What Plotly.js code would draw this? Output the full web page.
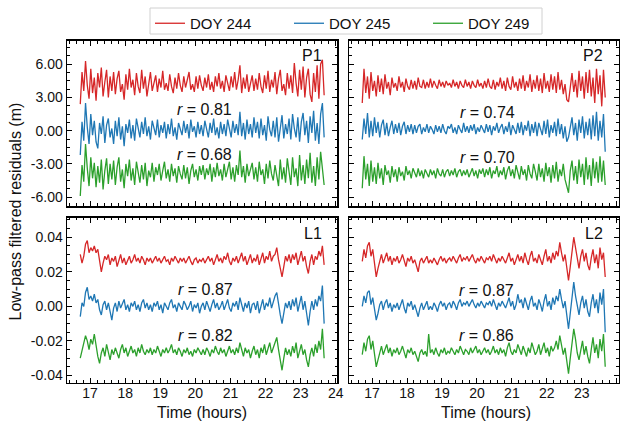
<!DOCTYPE html>
<html>
<head>
<meta charset="utf-8">
<script src="https://cdn.plot.ly/plotly-3.0.1.min.js"></script>
<style>
  html, body { margin: 0; padding: 0; background: #fff; }
  #chart { width: 623px; height: 425px; }
</style>
</head>
<body>
<div id="chart"></div>
<script>
// Sample times (hours of day)
const hours = [
  16.72, 16.77, 16.82, 16.87, 16.92, 16.97, 17.02, 17.07, 17.12, 17.17,
  17.22, 17.27, 17.32, 17.37, 17.42, 17.47, 17.52, 17.57, 17.62, 17.67,
  17.72, 17.77, 17.82, 17.87, 17.92, 17.97, 18.02, 18.07, 18.12, 18.17,
  18.22, 18.27, 18.32, 18.37, 18.42, 18.47, 18.52, 18.57, 18.62, 18.67,
  18.72, 18.77, 18.82, 18.87, 18.92, 18.97, 19.02, 19.07, 19.12, 19.17,
  19.22, 19.27, 19.32, 19.37, 19.42, 19.47, 19.52, 19.57, 19.62, 19.67,
  19.72, 19.77, 19.82, 19.87, 19.92, 19.97, 20.02, 20.07, 20.12, 20.17,
  20.22, 20.27, 20.32, 20.37, 20.42, 20.47, 20.52, 20.57, 20.62, 20.67,
  20.72, 20.77, 20.82, 20.87, 20.92, 20.97, 21.02, 21.07, 21.12, 21.17,
  21.22, 21.27, 21.32, 21.37, 21.42, 21.47, 21.52, 21.57, 21.62, 21.67,
  21.72, 21.77, 21.82, 21.87, 21.92, 21.97, 22.02, 22.07, 22.12, 22.17,
  22.22, 22.27, 22.32, 22.37, 22.42, 22.47, 22.52, 22.57, 22.62, 22.67,
  22.72, 22.77, 22.82, 22.87, 22.92, 22.97, 23.02, 23.07, 23.12, 23.17,
  23.22, 23.27, 23.32, 23.37, 23.42, 23.47, 23.52, 23.57, 23.62, 23.67
];

const days = ['DOY 244', 'DOY 245', 'DOY 249'];
const dayColors = ['#d62728', '#1f77b4', '#2ca02c'];

// P1 code residuals (m), each day drawn at its own offset
const p1Doy244 = [
  2.4, 5.3, 3.6, 6.3, 4.1, 2.9, 5.6, 3.4, 4.8, 2.7,
  5.2, 3.9, 5.7, 3.1, 4.4, 5.5, 3.0, 4.9, 3.6, 5.3,
  3.3, 4.7, 5.4, 3.5, 4.2, 2.8, 5.1, 3.7, 5.6, 3.9,
  4.6, 3.2, 5.2, 4.0, 3.4, 5.5, 3.8, 4.9, 3.1, 4.5,
  5.3, 3.6, 4.2, 5.0, 3.5, 4.7, 3.9, 5.4, 3.7, 4.3,
  3.6, 5.1, 4.0, 3.4, 4.8, 3.8, 5.2, 4.1, 3.5, 4.9,
  3.9, 4.6, 5.3, 3.7, 4.2, 3.5, 4.9, 3.8, 5.0, 4.1,
  3.6, 4.8, 3.9, 5.1, 3.7, 4.4, 3.5, 4.9, 4.0, 5.2,
  3.8, 4.5, 3.5, 5.0, 4.2, 3.6, 4.9, 3.9, 5.3, 3.7,
  4.6, 5.9, 3.4, 4.8, 3.8, 5.1, 3.5, 4.4, 5.0, 3.6,
  4.7, 3.7, 5.2, 4.0, 3.4, 5.0, 3.8, 5.4, 3.5, 4.6,
  3.9, 5.3, 3.3, 4.7, 5.5, 3.6, 4.2, 3.2, 5.2, 3.8,
  5.0, 3.4, 6.1, 4.3, 3.1, 5.5, 3.7, 5.8, 3.0, 4.8,
  5.6, 3.3, 2.6, 5.2, 3.5, 5.9, 2.9, 6.0, 6.4, 3.2
];
const p1Doy245 = [
  -2.2, 0.8, -0.9, 2.5, 0.3, -1.2, 1.5, -0.4, 0.9, -1.0,
  -1.6, 0.7, -0.3, 1.3, -1.1, 0.5, 1.1, -0.6, 0.2, -1.2,
  0.9, -0.5, 1.2, -0.8, 0.4, -1.4, 0.6, -0.2, 1.0, -0.7,
  0.5, -0.9, 1.1, 0.1, -0.6, 0.8, -0.3, 1.2, -0.5, 0.4,
  -0.8, 0.9, 0.2, -0.4, 1.0, -0.6, 0.5, -0.2, 0.8, -0.7,
  0.6, -0.3, 1.1, -0.5, 0.3, -0.8, 0.7, 0.1, -0.4, 0.9,
  -0.2, 0.6, -0.7, 1.0, -0.1, 0.4, -0.6, 0.8, -0.3, 0.5,
  -0.5, 0.9, 0.2, -0.6, 0.7, -0.2, 1.1, -0.4, 0.3, -0.7,
  0.8, -0.3, 0.6, -0.5, 1.0, 0.0, -0.6, 0.9, -0.2, 0.6,
  -0.4, 1.7, -0.5, 0.7, -0.8, 1.0, -0.3, 0.6, -0.6, 1.2,
  -0.2, 0.8, -0.7, 1.1, -0.4, 0.5, -0.9, 1.3, 0.1, -0.5,
  0.9, -0.6, 1.2, -1.0, 0.4, 1.4, -0.7, 0.6, -0.3, 1.1,
  -0.8, 1.5, 0.2, -0.6, 1.2, -1.0, 0.8, 1.6, -0.4, 0.9,
  -1.1, 1.3, -0.2, 1.8, -0.9, 0.7, -1.2, 1.5, 2.5, -0.6
];
const p1Doy249 = [
  -5.9, -3.1, -4.6, -1.2, -3.4, -5.0, -2.4, -4.3, -2.9, -5.1,
  -3.2, -4.7, -2.6, -5.3, -3.6, -2.5, -4.8, -3.0, -4.4, -2.7,
  -4.9, -3.3, -2.4, -4.6, -3.5, -5.2, -3.0, -4.1, -2.6, -4.5,
  -3.4, -4.9, -2.8, -3.9, -4.7, -3.1, -4.4, -2.9, -5.0, -3.6,
  -4.2, -2.9, -4.6, -3.3, -4.0, -3.0, -4.5, -3.6, -2.8, -4.3,
  -3.5, -4.6, -3.0, -4.1, -3.4, -4.7, -3.2, -3.9, -4.4, -3.1,
  -4.3, -3.3, -4.8, -3.6, -3.0, -4.2, -3.5, -4.5, -3.2, -4.0,
  -3.1, -4.4, -3.4, -4.0, -3.0, -4.6, -3.3, -4.2, -2.9, -4.1,
  -3.5, -4.5, -3.0, -4.2, -3.6, -2.8, -4.4, -3.3, -4.6, -3.1,
  -4.0, -1.8, -4.2, -3.2, -4.7, -3.0, -4.1, -3.5, -2.9, -4.4,
  -3.3, -4.6, -2.8, -4.0, -3.5, -4.8, -3.0, -4.3, -2.7, -3.9,
  -4.5, -3.1, -4.1, -5.0, -2.6, -4.4, -3.3, -4.7, -2.5, -3.8,
  -4.9, -2.4, -4.2, -3.4, -5.0, -2.2, -4.5, -3.1, -4.8, -2.6,
  -4.3, -2.0, -4.7, -3.2, -5.0, -2.4, -4.4, -1.9, -3.6, -4.9
];

// P2 code residuals (m)
const p2Doy244 = [
  2.5, 5.6, 3.4, 4.9, 2.9, 5.3, 3.6, 4.5, 3.1, 5.0,
  3.5, 4.7, 3.3, 5.1, 3.8, 4.4, 3.2, 4.8, 3.9, 4.3,
  3.6, 4.9, 3.9, 4.4, 3.5, 4.7, 4.0, 3.7, 4.6, 3.8,
  4.5, 3.7, 4.8, 4.0, 3.9, 4.6, 3.8, 4.4, 3.9, 4.7,
  3.9, 4.5, 4.1, 3.8, 4.6, 4.0, 4.4, 3.9, 4.5, 4.1,
  4.3, 3.9, 4.6, 4.0, 4.4, 3.8, 4.5, 4.1, 3.9, 4.6,
  4.0, 4.4, 3.8, 4.5, 4.1, 3.9, 4.6, 4.0, 4.3, 3.8,
  4.5, 3.9, 4.7, 4.0, 3.8, 4.6, 3.7, 4.4, 4.0, 4.8,
  3.8, 4.5, 3.6, 4.8, 4.0, 3.7, 4.9, 3.9, 4.4, 3.6,
  4.7, 3.8, 5.0, 3.6, 4.5, 3.9, 5.1, 3.5, 4.6, 3.8,
  5.0, 3.6, 4.7, 3.4, 5.2, 3.8, 4.5, 3.5, 5.1, 3.7,
  4.9, 3.4, 5.3, 3.7, 4.6, 3.3, 4.2, 2.8, 2.6, 4.0,
  5.2, 3.5, 4.6, 3.0, 5.4, 3.6, 4.9, 2.9, 5.3, 3.4,
  5.5, 3.1, 4.8, 2.5, 5.6, 3.3, 5.0, 2.2, 5.5, 3.0
];
const p2Doy245 = [
  -0.8, 1.1, -0.3, 1.6, -0.6, 0.9, -0.5, 1.2, -0.2, 0.8,
  -0.6, 0.5, 1.0, -0.4, 0.7, -0.5, 0.3, 0.9, -0.3, 0.6,
  -0.2, 0.7, -0.4, 0.4, 0.8, -0.3, 0.5, -0.1, 0.6, -0.3,
  0.5, -0.2, 0.4, 0.6, -0.3, 0.3, -0.1, 0.6, -0.2, 0.4,
  0.1, -0.3, 0.5, -0.1, 0.4, -0.2, 0.6, 0.0, -0.3, 0.4,
  0.2, 0.6, -0.2, 0.3, -0.3, 0.5, 0.1, -0.2, 0.7, -0.1,
  0.4, -0.2, 0.5, 0.0, 0.6, -0.3, 0.3, -0.1, 0.5, 0.1,
  -0.2, 0.6, -0.1, 0.5, -0.4, 0.4, 0.0, 0.7, -0.2, 0.3,
  0.6, -0.3, 0.4, -0.1, 0.8, -0.4, 0.5, 0.1, -0.3, 0.7,
  -0.2, 0.8, -0.4, 0.5, 0.0, 0.9, -0.5, 0.6, -0.2, 0.8,
  -0.5, 0.7, 0.1, -0.4, 0.9, -0.3, 1.0, -0.6, 0.5, -0.2,
  0.8, -0.5, 1.1, -0.3, 0.6, -0.7, 0.4, -1.0, -0.6, 0.3,
  1.2, -0.4, 0.7, -0.9, 1.0, -0.2, 1.3, -0.7, 0.8, -0.4,
  1.1, -0.8, 1.4, -0.5, 1.7, -0.9, 0.9, -0.6, 1.5, -1.9
];
const p2Doy249 = [
  -5.2, -2.3, -4.4, -3.0, -5.0, -2.7, -4.6, -3.3, -4.8, -2.9,
  -4.3, -3.4, -4.9, -3.1, -4.0, -3.6, -4.7, -3.2, -4.2, -3.5,
  -4.6, -3.3, -4.1, -3.7, -4.5, -3.2, -4.0, -3.6, -4.3, -3.4,
  -3.8, -4.2, -3.4, -4.1, -3.6, -4.3, -3.5, -3.9, -4.2, -3.5,
  -4.0, -3.6, -4.3, -3.4, -3.9, -4.1, -3.5, -4.2, -3.7, -3.5,
  -4.1, -3.6, -4.0, -3.4, -4.2, -3.7, -3.5, -4.1, -3.6, -4.0,
  -3.5, -4.2, -3.7, -3.4, -4.1, -3.6, -4.3, -3.5, -3.9, -3.4,
  -4.2, -3.5, -4.0, -3.3, -4.3, -3.6, -3.9, -3.2, -4.2, -3.6,
  -4.0, -3.3, -4.4, -3.6, -3.2, -4.1, -3.5, -4.3, -3.1, -3.8,
  -4.4, -3.2, -4.0, -3.5, -4.5, -3.1, -3.9, -4.3, -3.0, -3.7,
  -4.5, -3.0, -4.2, -3.4, -4.6, -2.9, -4.1, -3.3, -4.7, -3.1,
  -4.3, -2.8, -4.6, -3.5, -4.1, -3.0, -4.4, -5.0, -5.6, -3.6,
  -2.7, -4.5, -3.2, -4.8, -2.6, -4.2, -3.0, -4.9, -2.4, -4.4,
  -3.1, -5.0, -2.5, -4.3, -2.8, -4.7, -2.3, -4.6, -2.7, -4.9
];

// L1 carrier-phase residuals (m)
const l1Doy244 = [
  0.030, 0.025, 0.029, 0.036, 0.038, 0.031, 0.034, 0.032, 0.035, 0.031,
  0.033, 0.026, 0.020, 0.025, 0.029, 0.027, 0.030, 0.024, 0.028, 0.026,
  0.029, 0.023, 0.027, 0.030, 0.025, 0.028, 0.024, 0.027, 0.029, 0.025,
  0.027, 0.030, 0.026, 0.028, 0.025, 0.029, 0.027, 0.024, 0.028, 0.026,
  0.028, 0.025, 0.027, 0.029, 0.026, 0.028, 0.025, 0.027, 0.029, 0.026,
  0.027, 0.024, 0.028, 0.026, 0.029, 0.027, 0.025, 0.028, 0.026, 0.028,
  0.025, 0.027, 0.029, 0.026, 0.024, 0.027, 0.028, 0.025, 0.027, 0.026,
  0.028, 0.025, 0.027, 0.029, 0.026, 0.028, 0.024, 0.027, 0.030, 0.026,
  0.028, 0.025, 0.029, 0.027, 0.031, 0.026, 0.024, 0.028, 0.026, 0.029,
  0.025, 0.028, 0.031, 0.026, 0.029, 0.024, 0.027, 0.030, 0.025, 0.028,
  0.026, 0.030, 0.024, 0.028, 0.031, 0.025, 0.029, 0.027, 0.032, 0.026,
  0.029, 0.030, 0.034, 0.027, 0.022, 0.017, 0.023, 0.029, 0.026, 0.030,
  0.025, 0.030, 0.027, 0.031, 0.024, 0.028, 0.032, 0.026, 0.029, 0.023,
  0.019, 0.026, 0.030, 0.024, 0.029, 0.027, 0.032, 0.029, 0.035, 0.024
];
const l1Doy245 = [
  -0.006, 0.002, 0.000, 0.008, 0.011, 0.004, 0.006, 0.003, 0.007, 0.002,
  0.004, -0.002, -0.005, 0.001, 0.003, -0.002, 0.002, -0.004, -0.008, -0.001,
  0.002, -0.003, 0.003, -0.001, 0.002, 0.004, -0.002, 0.001, -0.003, 0.002,
  0.000, 0.003, -0.002, 0.001, -0.003, 0.002, 0.004, -0.001, 0.002, -0.002,
  0.001, -0.003, 0.002, 0.000, 0.003, -0.002, 0.001, -0.004, 0.002, 0.000,
  -0.002, 0.002, 0.004, -0.001, 0.001, -0.003, 0.002, 0.000, -0.002, 0.003,
  0.001, -0.002, 0.000, 0.003, -0.003, 0.001, -0.001, 0.002, -0.004, 0.000,
  0.002, -0.002, 0.003, 0.000, -0.003, 0.001, 0.004, -0.001, 0.002, -0.002,
  0.000, 0.003, -0.002, 0.001, 0.004, -0.001, -0.003, 0.002, 0.000, 0.003,
  -0.002, 0.005, 0.001, -0.003, 0.002, -0.001, 0.003, -0.004, 0.001, 0.002,
  -0.002, 0.003, -0.004, 0.001, 0.004, -0.002, 0.002, 0.000, 0.005, -0.001,
  0.003, 0.006, 0.008, 0.001, -0.005, -0.010, -0.004, 0.002, -0.001, 0.003,
  -0.002, 0.004, 0.000, 0.005, -0.003, 0.001, 0.006, -0.002, 0.003, -0.004,
  -0.011, -0.003, 0.003, -0.002, 0.004, 0.000, 0.006, 0.003, 0.012, -0.010
];
const l1Doy249 = [
  -0.030, -0.025, -0.022, -0.017, -0.020, -0.025, -0.019, -0.022, -0.016, -0.024,
  -0.029, -0.033, -0.027, -0.024, -0.029, -0.022, -0.027, -0.031, -0.025, -0.028,
  -0.024, -0.027, -0.030, -0.025, -0.022, -0.027, -0.024, -0.029, -0.026, -0.023,
  -0.027, -0.025, -0.029, -0.024, -0.027, -0.022, -0.026, -0.028, -0.025, -0.027,
  -0.024, -0.028, -0.025, -0.027, -0.023, -0.026, -0.029, -0.025, -0.027, -0.024,
  -0.027, -0.025, -0.022, -0.027, -0.025, -0.028, -0.024, -0.026, -0.029, -0.025,
  -0.027, -0.024, -0.028, -0.026, -0.029, -0.025, -0.027, -0.024, -0.026, -0.028,
  -0.025, -0.028, -0.024, -0.026, -0.029, -0.025, -0.027, -0.023, -0.026, -0.028,
  -0.024, -0.027, -0.025, -0.029, -0.026, -0.023, -0.027, -0.025, -0.028, -0.024,
  -0.027, -0.021, -0.025, -0.029, -0.024, -0.027, -0.025, -0.030, -0.026, -0.023,
  -0.028, -0.025, -0.030, -0.024, -0.027, -0.022, -0.028, -0.025, -0.021, -0.027,
  -0.024, -0.021, -0.018, -0.025, -0.031, -0.037, -0.030, -0.024, -0.028, -0.025,
  -0.029, -0.023, -0.027, -0.021, -0.030, -0.026, -0.022, -0.028, -0.025, -0.031,
  -0.035, -0.028, -0.024, -0.029, -0.022, -0.027, -0.020, -0.025, -0.013, -0.030
];

// L2 carrier-phase residuals (m)
const l2Doy244 = [
  0.026, 0.033, 0.028, 0.035, 0.037, 0.029, 0.033, 0.024, 0.017, 0.022,
  0.027, 0.030, 0.025, 0.028, 0.031, 0.026, 0.029, 0.024, 0.028, 0.026,
  0.029, 0.025, 0.027, 0.030, 0.026, 0.023, 0.028, 0.026, 0.029, 0.025,
  0.027, 0.024, 0.020, 0.026, 0.028, 0.025, 0.027, 0.029, 0.025, 0.027,
  0.025, 0.028, 0.026, 0.024, 0.027, 0.029, 0.026, 0.028, 0.025, 0.027,
  0.028, 0.026, 0.029, 0.027, 0.025, 0.028, 0.030, 0.026, 0.028, 0.027,
  0.029, 0.026, 0.028, 0.030, 0.027, 0.025, 0.028, 0.026, 0.029, 0.027,
  0.025, 0.028, 0.027, 0.029, 0.026, 0.030, 0.027, 0.025, 0.028, 0.026,
  0.029, 0.027, 0.025, 0.028, 0.031, 0.026, 0.028, 0.024, 0.027, 0.030,
  0.026, 0.029, 0.025, 0.031, 0.027, 0.024, 0.029, 0.032, 0.026, 0.028,
  0.025, 0.030, 0.027, 0.024, 0.029, 0.033, 0.026, 0.029, 0.025, 0.031,
  0.027, 0.032, 0.029, 0.037, 0.031, 0.026, 0.030, 0.022, 0.015, 0.023,
  0.033, 0.040, 0.034, 0.027, 0.022, 0.029, 0.033, 0.026, 0.031, 0.024,
  0.021, 0.028, 0.033, 0.025, 0.030, 0.022, 0.034, 0.027, 0.031, 0.017
];
const l2Doy245 = [
  0.000, 0.006, 0.002, 0.008, 0.009, 0.001, 0.005, -0.002, -0.008, -0.004,
  0.001, 0.003, -0.002, 0.002, 0.004, -0.001, 0.002, -0.003, 0.001, -0.001,
  0.002, -0.002, 0.001, 0.004, -0.001, -0.004, 0.002, 0.000, 0.003, -0.002,
  0.001, -0.002, -0.006, -0.001, 0.002, -0.002, 0.001, 0.003, -0.002, 0.000,
  -0.002, 0.002, 0.000, -0.003, 0.001, 0.003, 0.000, 0.002, -0.002, 0.001,
  0.002, -0.001, 0.003, 0.001, -0.002, 0.002, 0.004, 0.000, 0.002, 0.001,
  0.003, 0.000, 0.002, 0.004, 0.001, -0.001, 0.002, 0.000, 0.003, 0.001,
  -0.001, 0.002, 0.001, 0.003, 0.000, 0.004, 0.001, -0.002, 0.002, 0.000,
  0.003, 0.001, -0.001, 0.002, 0.005, 0.000, 0.003, -0.002, 0.001, 0.007,
  0.002, 0.004, -0.001, 0.005, 0.001, -0.002, 0.003, 0.006, 0.000, 0.002,
  -0.002, 0.004, 0.001, -0.003, 0.003, 0.007, 0.000, 0.003, -0.002, 0.005,
  0.001, 0.006, 0.003, 0.010, 0.004, -0.001, 0.003, -0.006, -0.013, -0.004,
  0.007, 0.014, 0.006, 0.000, -0.005, 0.002, 0.006, -0.001, 0.004, -0.003,
  -0.006, 0.002, 0.007, -0.001, 0.004, -0.004, 0.008, 0.001, 0.010, -0.015
];
const l2Doy249 = [
  -0.028, -0.021, -0.026, -0.019, -0.017, -0.025, -0.020, -0.029, -0.035, -0.031,
  -0.026, -0.023, -0.028, -0.025, -0.022, -0.027, -0.024, -0.029, -0.025, -0.027,
  -0.024, -0.028, -0.026, -0.023, -0.027, -0.030, -0.025, -0.027, -0.024, -0.028,
  -0.026, -0.029, -0.032, -0.027, -0.025, -0.028, -0.026, -0.029, -0.016, -0.027,
  -0.025, -0.028, -0.024, -0.027, -0.029, -0.025, -0.027, -0.024, -0.028, -0.026,
  -0.027, -0.024, -0.026, -0.028, -0.025, -0.027, -0.023, -0.026, -0.028, -0.025,
  -0.026, -0.028, -0.024, -0.027, -0.025, -0.023, -0.027, -0.025, -0.028, -0.026,
  -0.024, -0.027, -0.025, -0.028, -0.026, -0.023, -0.027, -0.025, -0.028, -0.024,
  -0.027, -0.025, -0.029, -0.024, -0.021, -0.026, -0.028, -0.025, -0.027, -0.022,
  -0.025, -0.028, -0.023, -0.026, -0.029, -0.024, -0.027, -0.021, -0.025, -0.028,
  -0.026, -0.022, -0.028, -0.025, -0.021, -0.027, -0.024, -0.029, -0.023, -0.026,
  -0.024, -0.020, -0.025, -0.017, -0.022, -0.028, -0.024, -0.031, -0.039, -0.030,
  -0.020, -0.013, -0.019, -0.027, -0.031, -0.024, -0.020, -0.028, -0.023, -0.029,
  -0.033, -0.025, -0.018, -0.027, -0.022, -0.030, -0.019, -0.026, -0.016, -0.035
];

// Correlation coefficients quoted in each panel (DOY 245 and DOY 249 against DOY 244)
const panelNames = ['P1', 'P2', 'L1', 'L2'];
const corrTop = ['0.81', '0.74', '0.87', '0.87'];
const corrBottom = ['0.68', '0.70', '0.82', '0.86'];

// Axis ticks
const xTicks = [17, 18, 19, 20, 21, 22, 23, 24];
const xTickText = ['17', '18', '19', '20', '21', '22', '23', '24'];
const pTicks = [-6, -3, 0, 3, 6];
const pTickText = ['-6.00', '-3.00', '0.00', '3.00', '6.00'];
const lTicks = [-0.04, -0.02, 0, 0.02, 0.04];
const lTickText = ['-0.04', '-0.02', '0.00', '0.02', '0.04'];

const FONT = '"Liberation Sans", Arial, Helvetica, sans-serif';
const INK = '#111';

const panels = [
  { series: [p1Doy244, p1Doy245, p1Doy249], xa: 'x',  ya: 'y'  },
  { series: [p2Doy244, p2Doy245, p2Doy249], xa: 'x2', ya: 'y2' },
  { series: [l1Doy244, l1Doy245, l1Doy249], xa: 'x3', ya: 'y3' },
  { series: [l2Doy244, l2Doy245, l2Doy249], xa: 'x4', ya: 'y4' }
];

const traces = [];
panels.forEach((p, pi) => {
  p.series.forEach((vals, di) => {
    traces.push({
      type: 'scatter', mode: 'lines',
      x: hours, y: vals,
      xaxis: p.xa, yaxis: p.ya,
      name: days[di], legendgroup: days[di],
      showlegend: pi === 0,
      line: { color: dayColors[di], width: 1.3 },
      hoverinfo: 'skip'
    });
  });
});

const frame = {
  showline: true, linecolor: '#000', linewidth: 1.7, mirror: 'allticks',
  ticks: 'inside', ticklen: 5, tickwidth: 1, tickcolor: '#000',
  showgrid: false, zeroline: false,
  tickfont: { family: FONT, size: 14, color: INK }
};

function xAxis(domain, anchor, labels) {
  return Object.assign({}, frame, {
    domain: domain, anchor: anchor, range: [16.35, 24.05],
    tickmode: 'array', tickvals: xTicks, ticktext: xTickText,
    showticklabels: labels, ticklabelstandoff: -3,
    minor: { ticks: 'inside', ticklen: 2.5, tickwidth: 1, tickcolor: '#000', dtick: 0.2, tick0: 0 }
  });
}
function yAxis(domain, anchor, isPhase, labels) {
  return Object.assign({}, frame, {
    domain: domain, anchor: anchor,
    range: isPhase ? [-0.0442, 0.0513] : [-6.8, 8.1],
    tickmode: 'array',
    tickvals: isPhase ? lTicks : pTicks,
    ticktext: isPhase ? lTickText : pTickText,
    showticklabels: labels,
    minor: { ticks: 'inside', ticklen: 2.5, tickwidth: 1, tickcolor: '#000',
             dtick: isPhase ? 0.005 : 0.75, tick0: 0 }
  });
}

const colL = [0.1080, 0.5417];
const colR = [0.5607, 0.9928];
const rowT = [0.5153, 0.9035];
const rowB = [0.0995, 0.4878];

const annotations = [];
const tagY = [0.915, 0.915, 0.905, 0.905];
const rX = [20.25, 20.30, 20.28, 20.28];
const rYTop = [1.87, 1.63, 0.0098, 0.0094];
const rYBottom = [-2.19, -2.44, -0.0166, -0.0166];
panels.forEach((p, i) => {
  annotations.push({
    xref: p.xa + ' domain', yref: p.ya + ' domain', x: 0.95, y: tagY[i],
    xanchor: 'right', yanchor: 'middle', showarrow: false,
    text: panelNames[i], font: { family: FONT, size: 16, color: INK }
  });
  annotations.push({
    xref: p.xa, yref: p.ya, x: rX[i], y: rYTop[i],
    xanchor: 'center', yanchor: 'middle', showarrow: false,
    text: '<i>r</i> = ' + corrTop[i], font: { family: FONT, size: 16, color: INK }
  });
  annotations.push({
    xref: p.xa, yref: p.ya, x: rX[i], y: rYBottom[i],
    xanchor: 'center', yanchor: 'middle', showarrow: false,
    text: '<i>r</i> = ' + corrBottom[i], font: { family: FONT, size: 16, color: INK }
  });
});
// Shared axis titles
annotations.push({
  xref: 'paper', yref: 'paper', x: 15.5 / 623, y: 1 - 212 / 425,
  xanchor: 'center', yanchor: 'middle', textangle: -90, showarrow: false,
  text: 'Low-pass filtered residuals (m)', font: { family: FONT, size: 16, color: INK }
});
annotations.push({
  xref: 'paper', yref: 'paper', x: 202 / 623, y: 1 - 412.7 / 425,
  xanchor: 'center', yanchor: 'middle', showarrow: false,
  text: 'Time (hours)', font: { family: FONT, size: 16, color: INK }
});
annotations.push({
  xref: 'paper', yref: 'paper', x: 486 / 623, y: 1 - 412.7 / 425,
  xanchor: 'center', yanchor: 'middle', showarrow: false,
  text: 'Time (hours)', font: { family: FONT, size: 16, color: INK }
});

const layout = {
  width: 623, height: 425,
  margin: { l: 0, r: 0, t: 0, b: 0, autoexpand: false },
  paper_bgcolor: '#fff', plot_bgcolor: '#fff',
  font: { family: FONT, color: INK },
  showlegend: true,
  legend: {
    orientation: 'h', x: 150 / 623, xanchor: 'left', y: 1 - 7 / 425, yanchor: 'top',
    bgcolor: 'rgba(0,0,0,0)', borderwidth: 0,
    font: { family: FONT, size: 15, color: INK },
    entrywidth: 94, entrywidthmode: 'pixels', traceorder: 'normal'
  },
  // frame around the legend
  shapes: [{
    type: 'rect', xref: 'paper', yref: 'paper', layer: 'below',
    x0: 150 / 623, x1: 542 / 623, y0: 1 - 34 / 425, y1: 1 - 8 / 425,
    line: { color: '#d0d0d0', width: 1 }, fillcolor: '#fff'
  }],
  xaxis:  xAxis(colL, 'y',  false),
  xaxis2: xAxis(colR, 'y2', false),
  xaxis3: xAxis(colL, 'y3', true),
  xaxis4: xAxis(colR, 'y4', true),
  yaxis:  yAxis(rowT, 'x',  false, true),
  yaxis2: yAxis(rowT, 'x2', false, false),
  yaxis3: yAxis(rowB, 'x3', true, true),
  yaxis4: yAxis(rowB, 'x4', true, false),
  annotations: annotations
};

Plotly.newPlot('chart', traces, layout, { displayModeBar: false, staticPlot: true });
</script>
</body>
</html>
